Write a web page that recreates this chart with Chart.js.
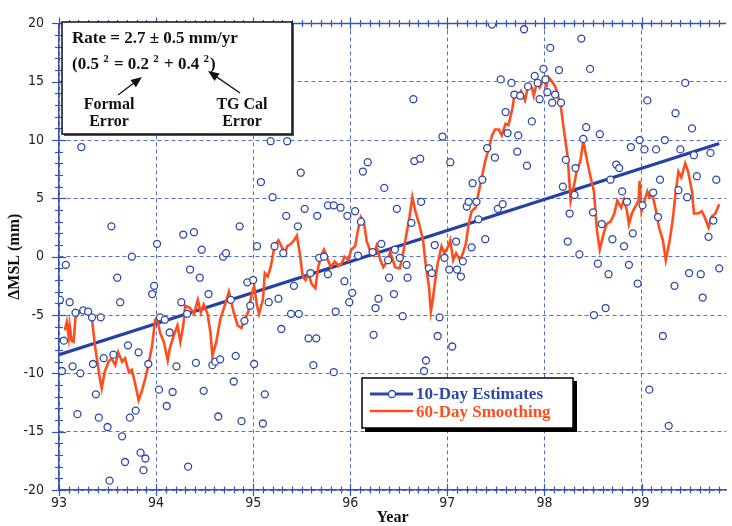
<!DOCTYPE html>
<html>
<head>
<meta charset="utf-8">
<title>Sea level rate</title>
<script src="https://cdn.jsdelivr.net/npm/chart.js@4.4.1/dist/chart.umd.min.js"></script>
<style>
    html, body { margin: 0; padding: 0; background: #ffffff; }
    #wrap { width: 732px; height: 526px; }
</style>
</head>
<body>
<div id="wrap"><canvas id="mslChart" width="732" height="526"></canvas></div>
<script>
// 10-day estimates (year, mm)
const estYear = [
    93.01, 93.03, 93.05, 93.07, 93.11, 93.14, 93.17, 93.19, 93.22, 93.23, 93.25, 93.30, 93.34, 93.35, 93.38, 93.41,
    93.43, 93.46, 93.50, 93.52, 93.54, 93.56, 93.60, 93.63, 93.65, 93.68, 93.71, 93.73, 93.75, 93.79, 93.82, 93.84,
    93.87, 93.89, 93.92, 93.96, 93.98, 94.01,
    94.03, 94.04, 94.09, 94.11, 94.14, 94.17, 94.21, 94.26, 94.28, 94.32, 94.33, 94.35, 94.39, 94.41, 94.45, 94.47,
    94.49, 94.54, 94.58, 94.61, 94.64, 94.66, 94.69, 94.72,
    94.77, 94.80, 94.82, 94.86, 94.88, 94.91, 94.94, 94.97, 95.00, 95.01, 95.04, 95.08, 95.10, 95.12, 95.16, 95.18,
    95.20, 95.22, 95.26, 95.29, 95.31, 95.34, 95.35, 95.39, 95.42, 95.46, 95.47, 95.49, 95.53, 95.57, 95.59, 95.62,
    95.65, 95.66, 95.68, 95.73, 95.77, 95.77, 95.83, 95.83, 95.85, 95.90, 95.94, 95.97, 95.99, 96.02, 96.05, 96.08,
    96.11, 96.13, 96.18, 96.23, 96.24, 96.26, 96.29, 96.32, 96.35, 96.39, 96.40, 96.45, 96.48,
    96.46, 96.51, 96.54, 96.58, 96.59, 96.63, 96.65, 96.66, 96.72, 96.73, 96.76, 96.78, 96.81, 96.84, 96.87, 96.90,
    96.92, 96.95, 96.97, 97.02, 97.03, 97.05, 97.09, 97.10, 97.14, 97.16, 97.20, 97.22, 97.25, 97.26, 97.30, 97.32,
    97.36, 97.39, 97.41, 97.46, 97.49, 97.52, 97.55, 97.57, 97.60, 97.62, 97.66, 97.69, 97.72, 97.73, 97.75, 97.79,
    97.82, 97.83, 97.87, 97.90, 97.93, 97.95, 97.99, 98.01, 98.03, 98.06, 98.08, 98.11, 98.15, 98.17, 98.19, 98.22,
    98.24, 98.26,
    98.31, 98.32, 98.36, 98.38, 98.40, 98.43, 98.47, 98.50, 98.51, 98.55, 98.57, 98.59, 98.63, 98.66, 98.68, 98.70,
    98.74, 98.77, 98.80, 98.82, 98.85, 98.87, 98.89, 98.91, 98.96, 98.98, 99.01, 99.03, 99.06, 99.08, 99.12, 99.15,
    99.17, 99.19, 99.22, 99.24, 99.28, 99.34, 99.35, 99.38, 99.40, 99.45, 99.47, 99.49, 99.52, 99.54, 99.57, 99.61,
    99.63, 99.69, 99.71, 99.74, 99.77, 99.80
];
const estMSL = [
    -3.7, -9.8, -7.2, -0.7, -3.9, -9.4, -4.8, -13.5, -10.0, 9.4, -4.6, -4.7, -5.2, -9.2, -11.8, -13.8,
    -5.2, -8.7, -14.6, -19.2, 2.6, -8.4, -1.8, -3.9, -15.4, -17.6, -7.6, -13.8, 0.0, -13.2, -8.2, -16.8,
    -18.3, -17.3, -9.2, -3.2, -2.5, 1.1,
    -11.4, -5.2, -5.4, -12.8, -6.5, -11.6, -9.4, -3.9, 1.9, -4.9, -18.0, -1.1, 2.1, -9.1, -1.8, 0.6,
    -11.5, -3.2, -9.3, -9.0, -13.7, -8.8, 0.0, 0.3,
    -3.7, -10.7, -8.5, 2.6, -14.1, -5.5, -2.2, -4.2, -2.0, -9.2, 0.9, 6.4, -14.3, -11.8, -3.9, 9.9,
    5.1, 0.9, -3.6, -6.2, 0.3, 3.5, 9.9, -4.9, -2.5, 2.6, -4.9, 7.2, 4.1, -7.0, -1.4, -9.3,
    -7.0, 3.5, -0.1, 0.0, 4.4, -1.5, 4.4, -9.9, -4.7, 4.2, -2.1, 3.5, -3.9, -3.1, 3.9, 0.1,
    3.0, 7.3, 8.1, 0.4, -6.7, -4.4, -3.6, 1.1, 5.9, -0.3, -1.8, -3.2, 4.1,
    0.6, -0.1, -5.1, -0.7, -1.8, 2.9, 13.5, 8.2, 8.4, 4.7, -9.8, -8.9, -1.0, -1.4, 1.0, -6.8,
    -5.2, 10.3, -0.1, -1.1, 8.1, -7.7, 1.3, -1.1, -1.7, -0.4, 4.3, 4.7, 0.8, 6.3, 4.7, 3.2,
    6.6, 1.5, 9.3, 19.9, 8.5, 4.1, 15.2, 4.5, 12.4, 10.6, 14.9, 13.9, 9.0, 10.4, 13.8, 19.5,
    7.8, 14.6, 11.6, 15.5, 14.9, 13.5, 16.1, 15.2, 14.1, 17.9, 13.2, 13.9, 16.0, 13.2, 6.0, 8.3,
    1.3, 3.7,
    5.3, 7.6, 0.2, 18.7, 10.1, 11.1, 16.1, 3.8, -5.0, -0.6, 10.5, 2.8, -4.4, -1.5, 6.6, 1.5,
    7.9, 7.6, 5.6, 0.9, 4.7, -0.7, 9.4, 2.0, -2.3, 10.0, 4.4, 9.2, 13.4, -11.4, 5.5, 9.2,
    3.4, 6.6, -6.8, 10.0, -14.5, -2.5, 12.3, 5.7, 9.2, 14.9, 5.1, -1.4, 11.0, 8.7, 6.9, -1.5,
    -3.5, 1.7, 8.9, 3.1, 6.6, -1.0
];

// 60-day smoothing
const smoothYear = [
    93.06, 93.08, 93.10, 93.11, 93.13, 93.15, 93.17, 93.20, 93.23, 93.27, 93.30, 93.34, 93.37, 93.42, 93.44, 93.47,
    93.51, 93.54, 93.58, 93.61, 93.65, 93.68, 93.72, 93.75, 93.78, 93.82, 93.85, 93.89, 93.92, 93.96, 93.99, 94.01,
    94.04, 94.08, 94.12, 94.14, 94.18, 94.22, 94.25, 94.28, 94.30, 94.35, 94.39, 94.43, 94.46, 94.49, 94.53, 94.56,
    94.58, 94.62, 94.66, 94.71, 94.75,
    94.80, 94.84, 94.88, 94.91, 94.95, 94.98, 95.01, 95.04, 95.06, 95.10, 95.12, 95.15, 95.18, 95.22, 95.26, 95.29,
    95.33, 95.35, 95.39, 95.42, 95.45, 95.48, 95.51, 95.54, 95.57, 95.60, 95.64, 95.67, 95.70, 95.73, 95.77, 95.80,
    95.84, 95.88, 95.91, 95.94, 95.98, 96.01, 96.05, 96.08, 96.11, 96.14, 96.17, 96.21, 96.24, 96.27, 96.31, 96.34,
    96.38, 96.41, 96.44,
    96.46, 96.51, 96.54, 96.58, 96.61, 96.64, 96.67, 96.71, 96.75, 96.78, 96.81, 96.83, 96.85, 96.88, 96.90, 96.94,
    96.97, 97.01, 97.03, 97.06, 97.09, 97.13, 97.16, 97.19, 97.22, 97.25, 97.29, 97.32, 97.36, 97.39, 97.43, 97.46,
    97.49, 97.53, 97.56, 97.60, 97.63, 97.67, 97.69, 97.73, 97.76, 97.80, 97.83, 97.87, 97.89, 97.92, 97.95, 97.99,
    98.02, 98.04, 98.07, 98.11, 98.14, 98.17, 98.20, 98.24, 98.27,
    98.30, 98.33, 98.37, 98.40, 98.44, 98.47, 98.51, 98.54, 98.57, 98.61, 98.64, 98.68, 98.72, 98.75, 98.79, 98.82,
    98.85, 98.87, 98.90, 98.93, 98.97, 98.98, 99.00, 99.03, 99.06, 99.08, 99.11, 99.15, 99.18, 99.22, 99.25, 99.29,
    99.32, 99.35, 99.38, 99.41, 99.45, 99.48, 99.52, 99.54, 99.58, 99.62, 99.65, 99.69, 99.72, 99.76, 99.80
];
const smoothMSL = [
    -6.3, -5.6, -6.9, -5.9, -7.2, -7.3, -5.2, -4.9, -4.5, -4.8, -4.6, -5.4, -7.6, -10.4, -11.3, -9.9,
    -9.0, -8.7, -9.3, -8.2, -9.0, -8.7, -9.9, -9.7, -10.7, -12.3, -11.6, -10.4, -9.3, -7.6, -5.4, -5.2,
    -6.5, -7.3, -8.9, -7.9, -6.8, -5.9, -7.3, -5.9, -4.2, -4.4, -4.9, -3.7, -4.8, -4.1, -4.9, -6.5,
    -8.5, -7.3, -5.4, -4.1, -3.0,
    -4.8, -5.9, -6.1, -5.5, -4.7, -3.4, -2.5, -4.2, -4.9, -3.7, -1.4, -1.7, -0.9, 0.9, 1.4, 0.9,
    0.3, 0.9, 1.1, 1.4, 1.8, 0.3, -1.7, -2.0, -1.4, -2.3, -2.7, -0.9, 0.1, 0.6, -0.3, -0.9,
    -0.4, -0.8, -0.6, 0.0, -0.3, 0.6, 0.9, 2.3, 3.4, 3.0, 1.3, 0.4, 0.1, 0.9, -0.3, -0.9,
    -0.4, 0.4, -0.3,
    -0.9, -1.0, 0.1, 2.0, 3.4, 5.1, 3.9, 2.8, 1.4, -0.9, -2.5, -4.7, -3.7, -1.7, -0.6, 0.9,
    0.3, 0.9, 1.4, -0.3, 0.3, -0.3, 0.3, 1.1, 2.8, 3.9, 4.2, 5.4, 7.0, 8.2, 9.4, 10.4,
    10.9, 10.9, 10.4, 11.4, 11.3, 12.7, 13.8, 13.7, 14.2, 13.4, 14.6, 14.5, 13.8, 14.9, 14.5, 15.2,
    14.6, 15.4, 15.1, 14.6, 13.8, 12.8, 10.9, 8.5, 4.8,
    5.9, 7.3, 8.2, 9.9, 8.2, 7.0, 5.6, 2.3, 0.6, 2.0, 2.8, 3.0, 3.7, 4.8, 4.2, 4.9,
    3.9, 2.8, 3.7, 4.2, 4.8, 6.5, 3.9, 4.8, 5.6, 5.1, 5.4, 3.9, 2.5, 1.4, -0.3, 1.4,
    3.1, 5.4, 7.3, 6.8, 8.0, 7.3, 5.6, 3.7, 3.7, 3.9, 3.4, 2.5, 3.4, 3.7, 4.5
];

// fitted rate line
const trendYear = [93.0, 99.8];
const trendMSL = [-8.4, 9.7];

const xTicks = [93, 94, 95, 96, 97, 98, 99];
const yTicks = [-20, -15, -10, -5, 0, 5, 10, 15, 20];

const blue = '#2c48a8';
const red = '#ff4d1c';
const axisBlue = '#3553b5';
const gridBlue = 'rgba(55, 85, 195, 0.85)';
const serif = '"Liberation Serif", "Times New Roman", serif';
const narrow = '"Liberation Sans Narrow", "DejaVu Sans Condensed", sans-serif';

function drawArrow(ctx, x1, y1, x2, y2) {
    const ang = Math.atan2(y2 - y1, x2 - x1);
    ctx.beginPath();
    ctx.moveTo(x1, y1);
    ctx.lineTo(x2 - 6 * Math.cos(ang), y2 - 6 * Math.sin(ang));
    ctx.stroke();
    ctx.beginPath();
    ctx.moveTo(x2, y2);
    ctx.lineTo(x2 - 11 * Math.cos(ang) + 4.5 * Math.sin(ang), y2 - 11 * Math.sin(ang) - 4.5 * Math.cos(ang));
    ctx.lineTo(x2 - 11 * Math.cos(ang) - 4.5 * Math.sin(ang), y2 - 11 * Math.sin(ang) + 4.5 * Math.cos(ang));
    ctx.closePath();
    ctx.fill();
}

const frameDeco = {
    id: 'frameDeco',
    beforeDatasetsDraw(chart) {
        const { ctx, chartArea: a, scales: { x, y } } = chart;
        ctx.save();
        ctx.strokeStyle = axisBlue;
        ctx.lineWidth = 1.5;
        ctx.beginPath();
        ctx.moveTo(a.left, a.top);
        ctx.lineTo(a.right, a.top);
        ctx.stroke();

        ctx.lineWidth = 1.2;
        for (let i = 0; x.min + i * 0.1 <= x.max + 1e-9; i++) {
            const px = Math.round(x.getPixelForValue(x.min + i * 0.1)) + 0.5;
            const len = i % 10 === 0 ? 6 : 3.5;
            ctx.beginPath();
            ctx.moveTo(px, a.bottom - len);
            ctx.lineTo(px, a.bottom + len);
            ctx.moveTo(px, a.top - len);
            ctx.lineTo(px, a.top + len);
            ctx.stroke();
        }
        for (let v = y.min; v <= y.max; v++) {
            const py = Math.round(y.getPixelForValue(v)) + 0.5;
            const len = v % 5 === 0 ? 7 : 4;
            ctx.beginPath();
            ctx.moveTo(a.left - len, py);
            ctx.lineTo(a.left + len, py);
            ctx.stroke();
        }
        ctx.restore();
    },
    afterDraw(chart) {
        const ctx = chart.ctx;
        ctx.save();

        // rate annotation box
        ctx.fillStyle = '#555';
        ctx.fillRect(64, 24, 230, 112);
        ctx.fillStyle = '#ffffff';
        ctx.fillRect(62, 22, 230, 112);
        ctx.strokeStyle = '#111';
        ctx.lineWidth = 1.5;
        ctx.strokeRect(62, 22, 230, 112);

        ctx.fillStyle = '#111';
        ctx.textBaseline = 'alphabetic';
        ctx.textAlign = 'left';
        ctx.font = 'bold 17px ' + serif;
        ctx.fillText('Rate = 2.7 \u00b1 0.5 mm/yr', 72, 43);

        const parts = ['(0.5 ', '2', ' = 0.2 ', '2', ' + 0.4 ', '2', ')'];
        let tx = 72;
        parts.forEach((p, i) => {
            const sup = i % 2 === 1;
            ctx.font = (sup ? 'bold 11px ' : 'bold 17px ') + serif;
            ctx.fillText(p, tx, sup ? 62 : 69);
            tx += ctx.measureText(p).width + (sup ? 1 : 0);
        });

        ctx.lineWidth = 1.3;
        drawArrow(ctx, 118, 95, 142, 77);
        drawArrow(ctx, 240, 93, 208, 71);

        ctx.textAlign = 'center';
        ctx.font = 'bold 16px ' + serif;
        ctx.fillText('Formal', 109, 109);
        ctx.fillText('Error', 109, 126);
        ctx.fillText('TG Cal', 242, 109);
        ctx.fillText('Error', 242, 126);

        // legend box
        ctx.fillStyle = '#000';
        ctx.fillRect(365, 381, 212, 51);
        ctx.fillStyle = '#ffffff';
        ctx.fillRect(362, 378, 211, 50);
        ctx.strokeStyle = '#000';
        ctx.lineWidth = 1.5;
        ctx.strokeRect(362, 378, 211, 50);

        const ds = chart.data.datasets;
        ctx.lineWidth = 3;
        ctx.strokeStyle = ds[0].borderColor;
        ctx.beginPath();
        ctx.moveTo(370, 394);
        ctx.lineTo(413, 394);
        ctx.stroke();
        ctx.lineWidth = 1.3;
        ctx.fillStyle = '#ffffff';
        ctx.beginPath();
        ctx.arc(392, 394, 3.5, 0, Math.PI * 2);
        ctx.fill();
        ctx.stroke();

        ctx.lineWidth = 2.5;
        ctx.strokeStyle = ds[1].borderColor;
        ctx.beginPath();
        ctx.moveTo(370, 411);
        ctx.lineTo(413, 411);
        ctx.stroke();

        ctx.textAlign = 'left';
        ctx.font = 'bold 17px ' + serif;
        ctx.fillStyle = ds[0].borderColor;
        ctx.fillText(ds[0].label, 416, 399);
        ctx.fillStyle = ds[1].borderColor;
        ctx.fillText(ds[1].label, 416, 417);

        ctx.restore();
    }
};

const ctx = document.getElementById('mslChart').getContext('2d');
const mslChart = new Chart(ctx, {
    type: 'scatter',
    data: {
        datasets: [
            {
                label: '10-Day Estimates',
                data: estYear.map((yr, i) => ({ x: yr, y: estMSL[i] })),
                showLine: false,
                borderColor: blue,
                backgroundColor: '#ffffff',
                pointRadius: 3.5,
                pointBorderWidth: 1.3,
                order: 0,
            },
            {
                label: '60-Day Smoothing',
                type: 'line',
                data: smoothYear.map((yr, i) => ({ x: yr, y: smoothMSL[i] })),
                borderColor: red,
                borderWidth: 2.6,
                pointRadius: 0,
                tension: 0,
                fill: false,
                order: 1,
            },
            {
                label: 'Trend',
                type: 'line',
                data: trendYear.map((yr, i) => ({ x: yr, y: trendMSL[i] })),
                borderColor: '#2441a4',
                borderWidth: 3.2,
                pointRadius: 0,
                fill: false,
                order: 2,
            },
        ],
    },
    options: {
        responsive: false,
        animation: false,
        devicePixelRatio: 1,
        layout: { padding: { top: 17, right: 6, bottom: 0, left: 0 } },
        plugins: {
            legend: { display: false },
            tooltip: { enabled: false },
        },
        scales: {
            x: {
                type: 'linear',
                min: 93,
                max: 99.87,
                afterBuildTicks: s => { s.ticks = xTicks.map(v => ({ value: v })); },
                afterFit: s => { s.height = 36; },
                ticks: {
                    padding: 5,
                    color: '#222',
                    font: { family: narrow, size: 14 },
                    callback: v => String(v),
                },
                grid: { color: gridBlue, lineWidth: 1, drawTicks: false },
                border: { display: true, color: axisBlue, width: 1.5, dash: [4, 3] },
                title: {
                    display: true,
                    text: 'Year',
                    color: '#111',
                    padding: { top: 0, bottom: 0 },
                    font: { family: serif, size: 16, weight: 'bold', lineHeight: 1 },
                },
            },
            y: {
                type: 'linear',
                min: -20,
                max: 20,
                afterBuildTicks: s => { s.ticks = yTicks.map(v => ({ value: v })); },
                afterFit: s => { s.width = 59; },
                ticks: {
                    padding: 15,
                    color: '#222',
                    font: { family: narrow, size: 14 },
                    callback: v => String(v),
                },
                grid: { color: gridBlue, lineWidth: 1, drawTicks: false },
                border: { display: true, color: axisBlue, width: 1.5, dash: [4, 3] },
                title: {
                    display: true,
                    text: '\u0394MSL (mm)',
                    color: '#111',
                    padding: { top: 7, bottom: 0 },
                    font: { family: serif, size: 16, weight: 'bold', lineHeight: 1 },
                },
            },
        },
    },
    plugins: [frameDeco],
});
</script>
</body>
</html>
